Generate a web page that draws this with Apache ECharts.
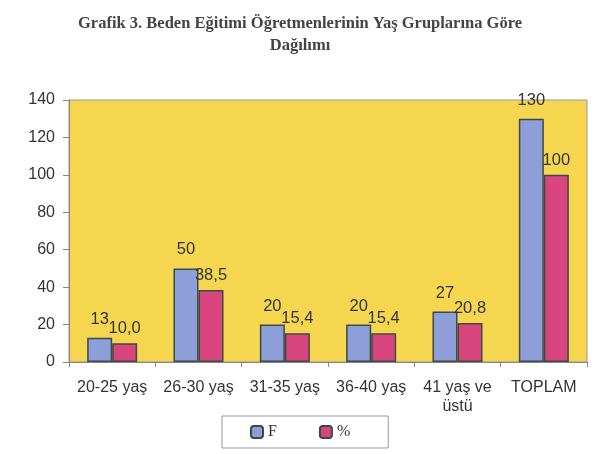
<!DOCTYPE html>
<html>
<head>
<meta charset="utf-8">
<script src="https://cdn.jsdelivr.net/npm/echarts@6/dist/echarts.min.js"></script>
<style>
  html, body { margin: 0; padding: 0; background: #fff; }
  #main { width: 600px; height: 454px; }
</style>
</head>
<body>
<div id="main"></div>
<script>
var categories = ['20-25 yaş', '26-30 yaş', '31-35 yaş', '36-40 yaş', '41 yaş ve\nüstü', 'TOPLAM'];
var fValues = [13, 50, 20, 20, 27, 130];
var pctValues = [10.0, 38.5, 15.4, 15.4, 20.8, 100];
var yTicks = [0, 20, 40, 60, 80, 100, 120, 140];

var dom = document.getElementById("main");
var myChart = echarts.init(dom);

var labelStyle = {
    show: true,
    position: 'top',
    distance: 6,
    color: '#333',
    fontFamily: 'Liberation Sans, Arial',
    fontSize: 16.5
};

option = {
    animation: false,
    title: {
        text: 'Grafik 3. Beden Eğitimi Öğretmenlerinin Yaş Gruplarına Göre\nDağılımı',
        left: 'center',
        top: 8,
        textStyle: {
            fontFamily: 'Liberation Serif, Times New Roman',
            fontWeight: 'bold',
            fontSize: 16.5,
            color: '#444',
            lineHeight: 22
        }
    },
    legend: {
        bottom: 6,
        left: 222,
        itemWidth: 12,
        itemHeight: 12,
        itemGap: 42,
        padding: [8, 38, 8, 28],
        borderColor: '#999',
        borderWidth: 1,
        textStyle: {
            fontFamily: 'Liberation Serif, Times New Roman',
            fontSize: 16,
            color: '#333'
        },
        data: ['F', '%']
    },
    grid: {
        left: 69,
        right: 13,
        top: 100,
        bottom: 92,
        show: true,
        backgroundColor: '#F6D64E',
        borderColor: '#999',
        borderWidth: 1
    },
    xAxis: {
        type: 'category',
        data: categories,
        axisLine: { lineStyle: { color: '#888' } },
        axisTick: { show: true, lineStyle: { color: '#888' } },
        axisLabel: {
            fontFamily: 'Liberation Sans, Arial',
            fontSize: 16,
            color: '#333',
            margin: 16,
            lineHeight: 19,
            interval: 0
        }
    },
    yAxis: {
        type: 'value',
        min: 0,
        max: yTicks[yTicks.length - 1],
        interval: 20,
        splitLine: { show: false },
        axisLine: { show: true, lineStyle: { color: '#888' } },
        axisTick: { show: true, length: 6, lineStyle: { color: '#888' } },
        axisLabel: {
            fontFamily: 'Liberation Sans, Arial',
            fontSize: 16,
            color: '#333',
            margin: 14
        }
    },
    series: [
        {
            name: 'F',
            type: 'bar',
            barWidth: 25,
            barGap: '0%',
            data: fValues,
            itemStyle: { color: '#8E9ED8', borderColor: '#3a4a44', borderWidth: 1.5 },
            label: Object.assign({}, labelStyle, { offset: [0, -4] })
        },
        {
            name: '%',
            type: 'bar',
            barWidth: 25,
            data: pctValues,
            itemStyle: { color: '#D8457F', borderColor: '#3a4a44', borderWidth: 1.5 },
            label: Object.assign({}, labelStyle, {
                formatter: function (p) {
                    return p.value === 100 ? '100' : p.value.toFixed(1).replace('.', ',');
                }
            })
        }
    ]
};

myChart.setOption(option);
</script>
</body>
</html>
